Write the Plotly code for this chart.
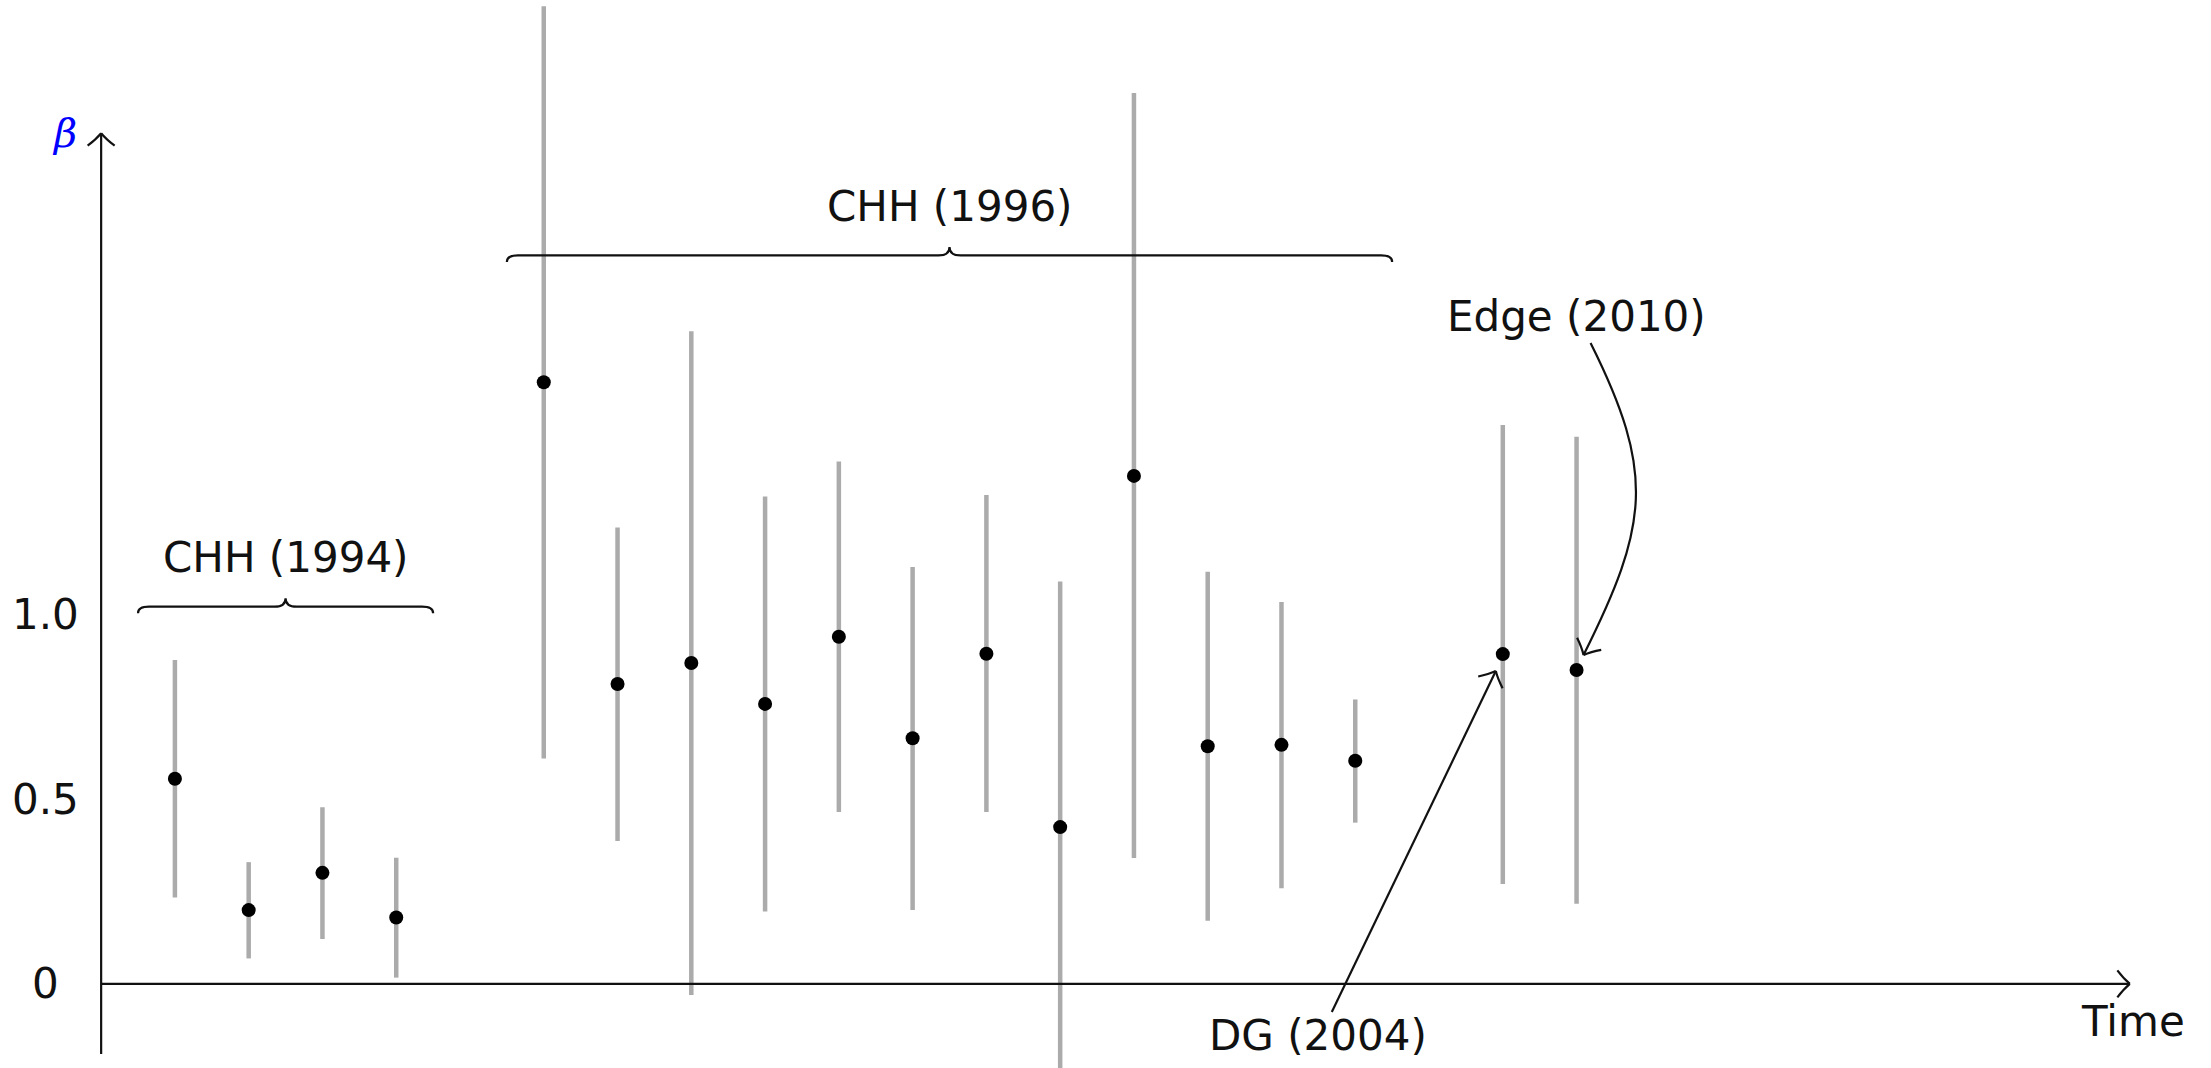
import plotly.graph_objects as go

# Estimates of beta with their confidence bands, one entry per study period
period = [1, 2, 3, 4,
          6, 7, 8, 9, 10, 11, 12, 13, 14, 15, 16, 17,
          19, 20]
beta = [0.556, 0.200, 0.301, 0.180,
        1.631, 0.813, 0.870, 0.759, 0.941, 0.666, 0.895, 0.425, 1.377, 0.644, 0.648, 0.605,
        0.894, 0.851]
beta_low = [0.234, 0.069, 0.122, 0.017,
            0.611, 0.387, -0.030, 0.196, 0.466, 0.200, 0.466, -0.250, 0.341, 0.171, 0.259, 0.437,
            0.271, 0.217]
beta_high = [0.878, 0.330, 0.479, 0.342,
             2.650, 1.237, 1.769, 1.321, 1.416, 1.130, 1.325, 1.091, 2.415, 1.117, 1.035, 0.771,
             1.515, 1.483]

# Study groups: label and the periods they cover
group_labels = ["CHH (1994)", "CHH (1996)", "DG (2004)", "Edge (2010)"]
group_periods = [[1, 2, 3, 4], list(range(6, 18)), [19], [20]]

y_ticks = [0, 0.5, 1.0]
y_tick_text = ["0", "0.5", "1.0"]

# ---------------------------------------------------------------- layout frame
W, H = 2211, 1068
XR = (-1.371, 28.60)
YR = (-0.228, 2.667)
FONT = "DejaVu Sans"
INK = "#111111"
TEXT_LIFT = 0.0


def to_px(x, y):
    return ((x - XR[0]) / (XR[1] - XR[0]) * W, (YR[1] - y) / (YR[1] - YR[0]) * H)


def to_data(px, py):
    return (XR[0] + px / W * (XR[1] - XR[0]), YR[1] - py / H * (YR[1] - YR[0]))


def path_from_px(cmds):
    """cmds: list of (letter, [(px, py), ...]) -> SVG path in data units."""
    out = []
    for letter, pts in cmds:
        coords = " ".join("%.5f,%.5f" % to_data(px, py) for px, py in pts)
        out.append(letter + " " + coords)
    return " ".join(out)


def arrow_head(tip, direction, back=12.5, spread=13.5):
    """Open, curved arrow tip (pixel geometry)."""
    dx, dy = direction
    n = (dx * dx + dy * dy) ** 0.5
    dx, dy = dx / n, dy / n
    nx, ny = -dy, dx
    tx, ty = tip
    cmds = []
    for s in (1, -1):
        end = (tx - back * dx + s * spread * nx, ty - back * dy + s * spread * ny)
        ctrl = (tx - 6 * dx + s * 5 * nx, ty - 6 * dy + s * 5 * ny)
        cmds.append(("M", [end]))
        cmds.append(("Q", [ctrl, (tx, ty)]))
    return path_from_px(cmds)


def brace(x0, x1, y_end, rise=6.5, tip=15.0, r=11.0):
    """Curly brace over [x0, x1] (data), opening downward, sized in pixels."""
    (p0x, p0y) = to_px(x0, y_end)
    (p1x, _) = to_px(x1, y_end)
    fy = p0y - rise
    ty = p0y - tip
    mx = (p0x + p1x) / 2
    cmds = [
        ("M", [(p0x, p0y)]),
        ("Q", [(p0x, fy), (p0x + r, fy)]),
        ("L", [(mx - r, fy)]),
        ("Q", [(mx, fy), (mx, ty)]),
        ("Q", [(mx, fy), (mx + r, fy)]),
        ("L", [(p1x - r, fy)]),
        ("Q", [(p1x, fy), (p1x, p0y)]),
    ]
    return path_from_px(cmds)


fig = go.Figure()

# confidence bands
fig.add_trace(go.Scatter(
    x=period, y=beta, mode="markers",
    marker=dict(size=1, opacity=0),
    error_y=dict(type="data", symmetric=False,
                 array=[h - b for h, b in zip(beta_high, beta)],
                 arrayminus=[b - l for b, l in zip(beta, beta_low)],
                 width=0, thickness=4.5, color="#ababab"),
    hoverinfo="skip", showlegend=False, cliponaxis=False,
))
# point estimates
fig.add_trace(go.Scatter(
    x=period, y=beta, mode="markers",
    marker=dict(size=14, color="black"),
    showlegend=False, cliponaxis=False,
))

shapes = []
line_style = dict(color=INK, width=2.2)

# axes with open arrow tips
x_end, y_top, y_bottom = 27.5, 2.306, -0.19
shapes.append(dict(type="line", xref="x", yref="y", x0=0, y0=0, x1=x_end, y1=0, line=line_style))
shapes.append(dict(type="line", xref="x", yref="y", x0=0, y0=y_bottom, x1=0, y1=y_top, line=line_style))
shapes.append(dict(type="path", xref="x", yref="y", path=arrow_head(to_px(x_end, 0), (1, 0)), line=line_style))
shapes.append(dict(type="path", xref="x", yref="y", path=arrow_head(to_px(0, y_top), (0, -1)), line=line_style))

# group braces
brace_levels = {0: 1.005, 1: 1.957}
for gi, lvl in brace_levels.items():
    ps = group_periods[gi]
    shapes.append(dict(type="path", xref="x", yref="y",
                       path=brace(min(ps) - 0.5, max(ps) + 0.5, lvl), line=line_style))

annotations = []
label_font = dict(family=FONT, size=42, color=INK)

# brace labels
brace_label_y = {0: 1.157, 1: 2.106}
for gi, ly in brace_label_y.items():
    ps = group_periods[gi]
    annotations.append(dict(x=(min(ps) + max(ps)) / 2, y=ly + TEXT_LIFT, xref="x", yref="y",
                            text=group_labels[gi], showarrow=False,
                            xanchor="center", yanchor="middle", font=label_font))

# DG (2004): straight arrow from label to its estimate
dg_x = group_periods[2][0]
dg_y = beta[period.index(dg_x)]
dg_px = to_px(dg_x, dg_y)
dg_tip = (dg_px[0] - 7, dg_px[1] + 17)
dg_start = (dg_px[0] - 171, dg_px[1] + 358)
shapes.append(dict(type="line", xref="x", yref="y",
                   x0=to_data(*dg_start)[0], y0=to_data(*dg_start)[1],
                   x1=to_data(*dg_tip)[0], y1=to_data(*dg_tip)[1], line=line_style))
shapes.append(dict(type="path", xref="x", yref="y",
                   path=arrow_head(dg_tip, (dg_tip[0] - dg_start[0], dg_tip[1] - dg_start[1])),
                   line=line_style))
annotations.append(dict(x=dg_x - 2.5, y=-0.141 + TEXT_LIFT, xref="x", yref="y", text=group_labels[2],
                        showarrow=False, xanchor="center", yanchor="middle", font=label_font))

# Edge (2010): curved arrow from label down to its estimate
ed_x = group_periods[3][0]
ed_y = beta[period.index(ed_x)]
ed_px = to_px(ed_x, ed_y)
ed_tip = (ed_px[0] + 7, ed_px[1] - 15)
ed_start = (ed_px[0] + 14, ed_px[1] - 327)
c1 = (ed_start[0] + 65, ed_start[1] + 130)
c2 = (ed_tip[0] + 65, ed_tip[1] - 130)
shapes.append(dict(type="path", xref="x", yref="y",
                   path=path_from_px([("M", [ed_start]), ("C", [c1, c2, ed_tip])]),
                   line=line_style))
shapes.append(dict(type="path", xref="x", yref="y",
                   path=arrow_head(ed_tip, (ed_tip[0] - c2[0], ed_tip[1] - c2[1])),
                   line=line_style))
annotations.append(dict(x=ed_x, y=1.808 + TEXT_LIFT, xref="x", yref="y", text=group_labels[3],
                        showarrow=False, xanchor="center", yanchor="middle", font=label_font))

# axis titles
annotations.append(dict(x=-0.49, y=2.306, xref="x", yref="y", text="<i>β</i>",
                        showarrow=False, xanchor="center", yanchor="middle",
                        font=dict(family="DejaVu Serif", size=40, color="#0000ff")))
annotations.append(dict(x=27.54, y=-0.103 + TEXT_LIFT, xref="x", yref="y", text="Time",
                        showarrow=False, xanchor="center", yanchor="middle", font=label_font))

# y tick labels
for v, t in zip(y_ticks, y_tick_text):
    annotations.append(dict(x=-0.76, y=v + TEXT_LIFT, xref="x", yref="y", text=t, showarrow=False,
                            xanchor="center", yanchor="middle", font=label_font))

fig.update_layout(
    width=W, height=H,
    margin=dict(l=0, r=0, t=0, b=0),
    paper_bgcolor="white", plot_bgcolor="white",
    xaxis=dict(range=list(XR), visible=False, fixedrange=True),
    yaxis=dict(range=list(YR), visible=False, fixedrange=True),
    shapes=shapes, annotations=annotations,
    showlegend=False,
)

fig.write_html("out.html")
